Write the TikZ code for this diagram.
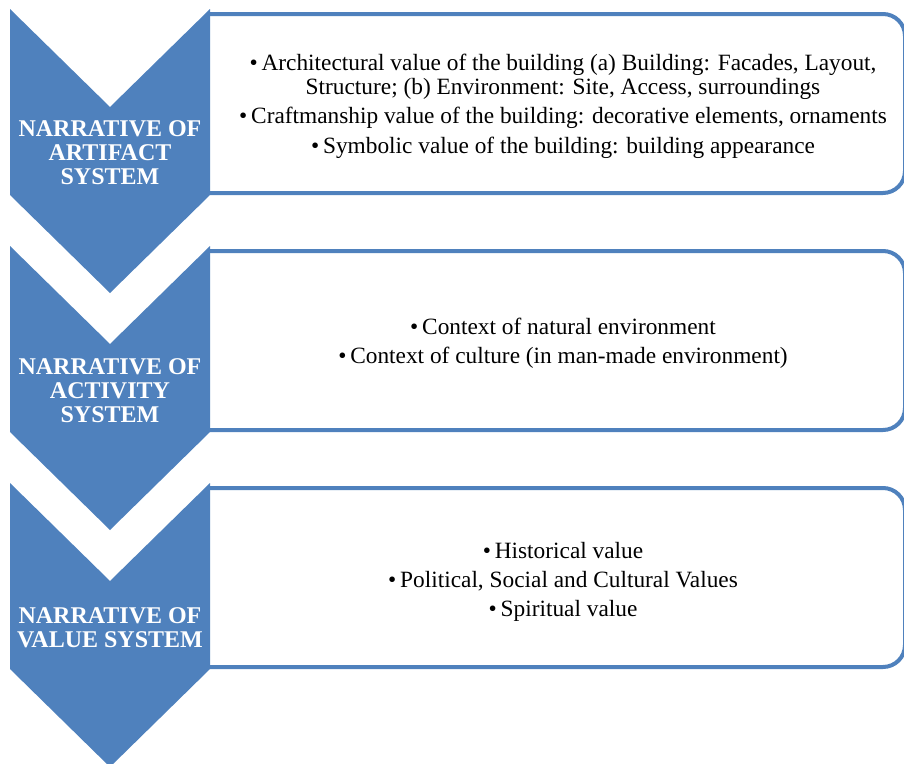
\documentclass[tikz,border=0pt]{standalone}
\usepackage{fontspec}
\setmainfont{Liberation Serif}
\definecolor{chevblue}{RGB}{79,129,189}
\tikzset{
  chevron/.style={fill=chevblue, draw=none},
  itembox/.style={draw=chevblue, line width=3pt, fill=white, rounded corners=16.5pt},
  chevlabel/.style={text=white, font=\fontsize{18}{18}\selectfont\bfseries, align=center, inner sep=0pt},
  itemtext/.style={text=black, font=\fontsize{17.5}{18}\selectfont, align=center, inner sep=0pt}
}
\newcommand{\itm}{\textbullet\,}
\begin{document}
\begin{tikzpicture}[x=0.75pt, y=-0.75pt]
    \useasboundingbox (0,0) rectangle (904,764);
    \clip (0,0) rectangle (904,764);
    % three rows: box on the right, chevron on top of its left end
    \foreach \t in {9,246,483} {
        \draw[itembox] (210,\t+5) -- (905,\t+5) -- (905,\t+184) -- (210,\t+184);
        \fill[chevron] (10,\t) -- (110,\t+98) -- (210,\t) -- (210,\t+186)
            -- (110,\t+284) -- (10,\t+186) -- cycle;
    }
    % chevron labels
    \node[chevlabel] (artifact) at (110,153) {NARRATIVE OF\\ARTIFACT\\SYSTEM};
    \node[chevlabel] (activity) at (110,391) {NARRATIVE OF\\ACTIVITY\\SYSTEM};
    \node[chevlabel] (valuesys) at (110,628) {NARRATIVE OF\\VALUE SYSTEM};
    % box texts
    \node[itemtext] (artifactitems) at (563,106) {\itm Architectural value of the building (a) Building: Facades, Layout,\\
        Structure; (b) Environment: Site, Access, surroundings\\[4pt]
        \itm Craftmanship value of the building: decorative elements, ornaments\\[4pt]
        \itm Symbolic value of the building: building appearance};
    \node[itemtext] (activityitems) at (563,343) {\itm Context of natural environment\\[4pt]
        \itm Context of culture (in man-made environment)};
    \node[itemtext] (valueitems) at (563,582) {\itm Historical value\\[4pt]
        \itm Political, Social and Cultural Values\\[4pt]
        \itm Spiritual value};
\end{tikzpicture}
\end{document}
